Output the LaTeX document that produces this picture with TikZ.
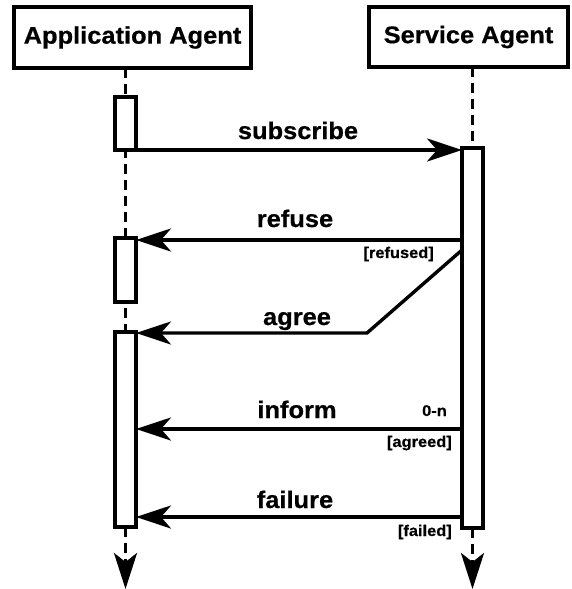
\documentclass[tikz,border=0pt]{standalone}
\usepackage{fontspec}
\setmainfont{Liberation Sans}[FakeStretch=1.06, BoldFeatures={FakeBold=0.6}]
\usetikzlibrary{arrows.meta}
\tikzset{
  lw/.style={line width=3.4pt},
  agentbox/.style={draw, lw, fill=white, inner sep=0pt, outer sep=0pt,
    font=\fontsize{24}{27}\selectfont\bfseries},
  actbar/.style={draw, lw, fill=white, inner sep=0pt, outer sep=0pt, minimum width=21pt},
  lifeline/.style={lw, dash pattern=on 10pt off 6pt},
  msg/.style={lw, -{Stealth[length=35pt, width=23pt, inset=10pt]}},
  endarrow/.style={lw, dash pattern=on 10pt off 6pt, -{Stealth[length=36pt, width=23pt, inset=9pt]}},
  msglabel/.style={anchor=base, inner sep=0pt, font=\fontsize{24}{27}\selectfont\bfseries},
  guard/.style={anchor=base east, inner sep=0pt, font=\fontsize{15.5}{17}\selectfont\bfseries},
}
\begin{document}
\begin{tikzpicture}[x=1pt, y=-1pt]
  \useasboundingbox (0,0) rectangle (571,589);

  % agents
  \node[agentbox, minimum width=237pt, minimum height=61pt] (app) at (132.5,37.5) {Application Agent};
  \node[agentbox, minimum width=199pt, minimum height=60pt] (svc) at (468.5,37) {Service Agent};

  % lifeline ends
  \coordinate (append) at (125.5,589);
  \coordinate (svcend) at (472.5,589);

  % lifelines (behind the activation bars)
  \draw[lifeline] (app.south -| append) -- (125.5,530);
  \draw[lifeline] (svc.south -| svcend) -- (472.5,530);

  % activation bars
  \node[actbar, minimum height=53pt] (a1) at (125.5,123.5) {};
  \node[actbar, minimum height=64pt] (a2) at (125.5,270) {};
  \node[actbar, minimum height=195pt] (a3) at (125.5,429.5) {};
  \node[actbar, minimum height=380pt] (s1) at (472.5,338) {};

  % lifeline continuations with arrow heads
  \draw[endarrow] (a3.south) -- (append);
  \draw[endarrow] (s1.south) -- (svcend);

  % messages
  \coordinate (bend) at (367,333);
  \draw[msg] (a1.south east) -- (a1.south east -| s1.west);
  \draw[msg] (s1.west |- 0,240) -- (a2.east |- 0,240);
  \draw[msg] (s1.west |- 0,250) -- (bend) -- (a3.east |- bend);
  \draw[msg] (s1.west |- 0,429) -- (a3.east |- 0,429);
  \draw[msg] (s1.west |- 0,517) -- (a3.east |- 0,517);

  % message labels
  \node[msglabel] (lsub) at (298,139) {subscribe};
  \node[msglabel] (lref) at (295,227) {refuse};
  \node[msglabel] (lagr) at (297,325) {agree};
  \node[msglabel] (linf) at (297,418) {inform};
  \node[msglabel] (lfai) at (295,508) {failure};

  % guards and multiplicity
  \node[guard] (grefused) at (434,258) {[refused]};
  \node[guard] (gmult) at (447,416) {0-n};
  \node[guard] (gagreed) at (452,447) {[agreed]};
  \node[guard] (gfailed) at (452,536) {[failed]};
\end{tikzpicture}
\end{document}
